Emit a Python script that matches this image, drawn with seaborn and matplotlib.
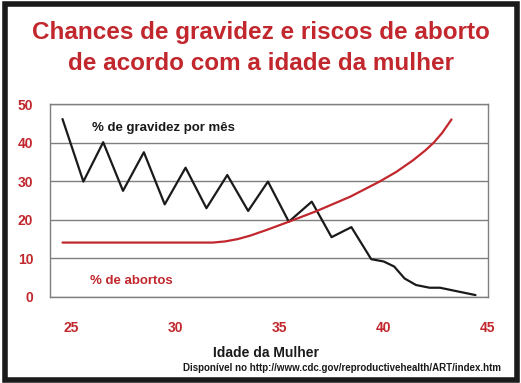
import numpy as np
import pandas as pd
import seaborn as sns
from matplotlib import pyplot as plt
from matplotlib.patches import Rectangle

# % de gravidez por mês (leitura aproximada do gráfico)
idade_grav = [24.6, 25.6, 26.55, 27.5, 28.5, 29.5, 30.5, 31.5, 32.5, 33.5,
              34.45, 35.45, 36.55, 37.5, 38.45, 39.4, 40.0, 40.5, 41.0, 41.55,
              42.2, 42.7, 43.5, 44.4]
gravidez = [46.1, 29.9, 40.1, 27.5, 37.5, 24.0, 33.5, 23.0, 31.6, 22.3,
            29.9, 19.5, 24.7, 15.5, 18.1, 9.8, 9.2, 7.9, 4.8, 3.1,
            2.4, 2.4, 1.5, 0.5]

# % de abortos
idade_abort = [24.6, 26.0, 28.0, 30.0, 31.8, 32.4, 33.0, 33.6, 34.4, 35.5,
               36.8, 38.4, 39.8, 40.6, 41.4, 42.0, 42.4, 42.8, 43.25]
abortos = [14.1, 14.1, 14.1, 14.1, 14.1, 14.4, 15.0, 15.9, 17.4, 19.6,
           22.3, 26.0, 29.9, 32.4, 35.4, 38.0, 40.0, 42.5, 46.0]

yticks = [0, 10, 20, 30, 40, 50]
xticks_lab = [25, 30, 35, 40, 45]

RED = "#c1272d"
GRAY = "#7f7f7f"


def main():
    sns.set_style("white")
    plt.rcParams['font.family'] = ['Liberation Sans', 'DejaVu Sans']

    fig = plt.figure(figsize=(5.21, 3.83), dpi=100)
    ax = fig.add_axes([50 / 521, 1 - 297 / 383, 438 / 521, 193 / 383])

    df_g = pd.DataFrame({"idade": idade_grav, "valor": gravidez})
    df_a = pd.DataFrame({"idade": idade_abort, "valor": abortos})
    sns.lineplot(x="idade", y="valor", data=df_g, ax=ax, color="#1a1a1a", lw=1.6)
    sns.lineplot(x="idade", y="valor", data=df_a, ax=ax, color=RED, lw=1.6)

    ax.set_xlim(24, 45)
    ax.set_ylim(0, 50)
    ax.set_yticks(yticks)
    ax.set_yticklabels([str(v) for v in yticks], color=RED, fontsize=10, fontweight='bold')
    ax.set_xticks(np.arange(24, 46, 1), minor=True)
    ax.set_xticks(xticks_lab)
    ax.set_xticklabels([str(v) for v in xticks_lab], color=RED, fontsize=10, fontweight='bold')
    ax.tick_params(axis='x', which='both', direction='out', length=5, width=1,
                   color=GRAY, pad=12)
    ax.tick_params(axis='y', direction='out', length=5, width=1, color=GRAY, pad=7)
    ax.grid(axis='y', color=GRAY, lw=1)
    for s in ax.spines.values():
        s.set_color(GRAY)
        s.set_linewidth(1)
    ax.set_xlabel("")
    ax.set_ylabel("")

    ax.text(26.0, 43.9, "% de gravidez por mês", fontsize=9.5, fontweight='bold',
            color="#1a1a1a", va='center', ha='left')
    ax.text(25.9, 4.1, "% de abortos", fontsize=9.5, fontweight='bold',
            color=RED, va='center', ha='left')

    fig.text(0.5, 1 - 33 / 383, "Chances de gravidez e riscos de aborto",
             ha='center', va='center', fontsize=17.5, fontweight='bold', color=RED)
    fig.text(0.5, 1 - 63 / 383, "de acordo com a idade da mulher",
             ha='center', va='center', fontsize=17.5, fontweight='bold', color=RED)
    fig.text(266 / 521, 1 - 353 / 383, "Idade da Mulher", ha='center', va='center',
             fontsize=10, fontweight='bold', color="#1a1a1a")
    fig.text(501 / 521, 1 - 368 / 383,
             "Disponível no http://www.cdc.gov/reproductivehealth/ART/index.htm",
             ha='right', va='center', fontsize=7, fontweight='bold', color="#1a1a1a")

    fig.patches.append(Rectangle((4.5 / 521, 3.5 / 383), 512 / 521, 376 / 383,
                                 transform=fig.transFigure, fill=False,
                                 edgecolor="#1a1a1a", lw=4))

    fig.savefig("out.png", dpi=100)


if __name__ == '__main__':
    main()
